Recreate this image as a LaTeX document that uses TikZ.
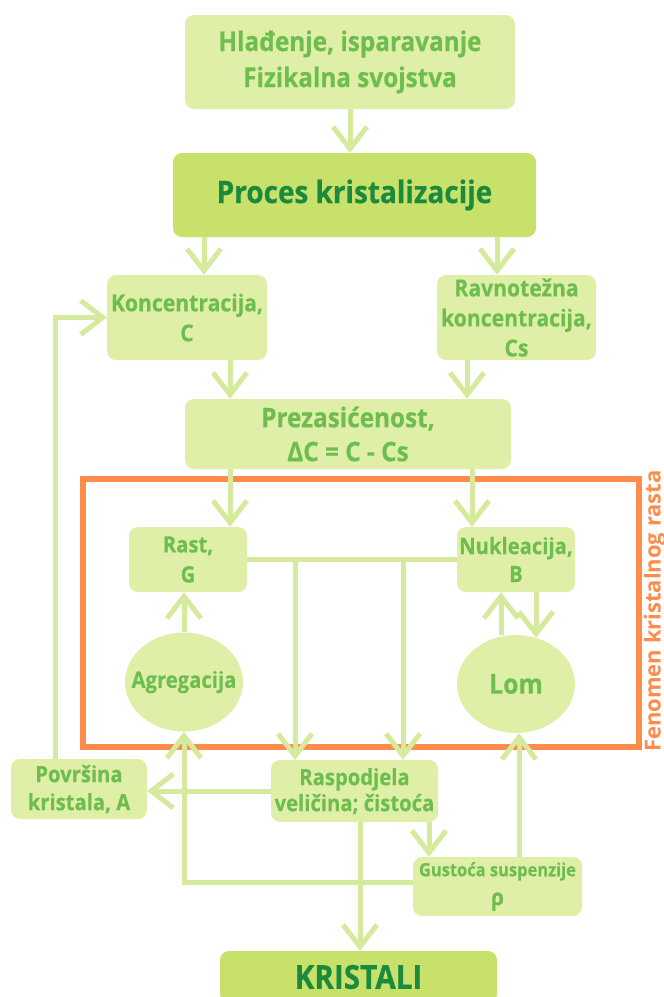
\documentclass[tikz,border=0pt]{standalone}
\usepackage{fontspec}
\newfontfamily\cb[FakeStretch=0.9,FakeBold=0.4]{Open Sans}
\newfontfamily\ob{Open Sans}
\usetikzlibrary{arrows.meta,shapes.geometric,calc}
\definecolor{boxlight}{HTML}{E0EFA8}
\definecolor{procfill}{HTML}{C8E16B}
\definecolor{txtgreen}{HTML}{6DBE4F}
\definecolor{darkgreen}{HTML}{1B8A3C}
\definecolor{linegreen}{HTML}{D5EA9C}
\definecolor{orangeedge}{HTML}{FF8C4B}
\begin{document}
\begin{tikzpicture}[x=1pt,y=-1pt,
  box/.style={rectangle,rounded corners=9pt,fill=boxlight,text=txtgreen,align=center,inner sep=0pt,font=\cb\bfseries},
  bigbox/.style={box,fill=procfill,text=darkgreen},
  oval/.style={ellipse,fill=boxlight,inner sep=0pt},
  ovaltext/.style={text=txtgreen,inner sep=0pt},
  conn/.style={draw=linegreen,line width=5pt},
  arr/.style={conn,-{Straight Barb[length=22pt,width=34pt,line width=5pt]}},
  fs/.style 2 args={font=\cb\bfseries\fontsize{#1}{#2}\selectfont}]
\useasboundingbox (0,0) rectangle (664,997);
% column coordinates
\coordinate (c1) at (204,0);
\coordinate (c2) at (497,0);
\coordinate (c3) at (230,0);
\coordinate (c4) at (467,0);
\coordinate (c5) at (472,0);
\coordinate (c6) at (295,0);
\coordinate (c7) at (403,0);
\coordinate (c8) at (501,0);
\coordinate (c9) at (536,0);
\coordinate (c10) at (519,0);
\coordinate (c11) at (55,0);
\coordinate (c12) at (429,0);
\coordinate (c13) at (360,0);
\coordinate (c14) at (350,0);
% frame
\draw[orangeedge,line width=5.5pt] (83,479) rectangle (639,747);
\node[rotate=90,text=orangeedge,font=\ob\bfseries\fontsize{22}{22}\selectfont] (lbl) at (655,611) {Fenomen kristalnog rasta};
% nodes
\node[box,fs={27}{36},minimum width=330,minimum height=94] (top) at (350,62) {Hlađenje, isparavanje\\Fizikalna svojstva};
\node[bigbox,fs={31}{34},minimum width=363,minimum height=84] (proc) at (354.5,195) {Proces kristalizacije};
\node[box,fs={23.5}{30},minimum width=160,minimum height=85] (konc) at (187,317.5) {Koncentracija,\\C};
\node[box,fs={23.5}{30},minimum width=159,minimum height=85] (ravn) at (516.5,317.5) {Ravnotežna\\koncentracija,\\Cs};
\node[box,fs={27}{34},minimum width=326,minimum height=70] (prez) at (348,434) {Prezasićenost,\\ΔC = C - Cs};
\node[box,fs={22.5}{30},minimum width=118,minimum height=65] (rast) at (188,559.5) {Rast,\\G};
\node[box,fs={22.5}{28},minimum width=118,minimum height=65] (nukl) at (516,559.5) {Nukleacija,\\B};
\node[oval,minimum width=118,minimum height=99,label={[ovaltext,fs={22.5}{24}]center:Agregacija}] (agr) at (184,682) {};
\node[oval,minimum width=118,minimum height=98,label={[ovaltext,fs={27.5}{30}]center:Lom}] (lom) at (516,684) {};
\node[box,fs={22.5}{28},minimum width=136,minimum height=60] (povr) at (79,789) {Površina\\kristala, A};
\node[box,fs={22.5}{26},minimum width=167,minimum height=62] (rasp) at (354.5,791) {Raspodjela\\veličina; čistoća};
\node[box,fs={18.3}{29},minimum width=169,minimum height=59] (gust) at (497.5,886.5) {Gustoća suspenzije\\{\fontsize{23}{29}\selectfont ρ}};
\node[bigbox,fs={33}{34},minimum width=277,minimum height=52] (krist) at (358.5,977) {KRISTALI};
% connectors
\draw[arr] (top.south -| c14) -- (proc.north -| c14);
\draw[arr] (proc.south -| c1) -- (konc.north -| c1);
\draw[arr] (proc.south -| c2) -- (ravn.north -| c2);
\draw[arr] (konc.south -| c3) -- (prez.north -| c3);
\draw[arr] (ravn.south -| c4) -- (prez.north -| c4);
\draw[arr] (prez.south -| c3) -- (rast.north -| c3);
\draw[arr] (prez.south -| c5) -- (nukl.north -| c5);
\draw[conn] (rast.east) -- (nukl.west);
\draw[arr] (rast.east -| c6) -- (rasp.north -| c6);
\draw[arr] (rast.east -| c7) -- (rasp.north -| c7);
\draw[arr] (agr.north) -- (rast.south -| agr.north);
\draw[arr] (lom.north -| c8) -- (nukl.south -| c8);
\draw[arr] (nukl.south -| c9) -- ([yshift=-3pt]lom.north -| c9);
\draw[arr] (gust.north -| c10) -- (lom.south -| c10);
\draw[arr] ([yshift=4.5pt]gust.west) -| (agr.south);
\draw[arr] (rasp.west) -- (rasp.west -| povr.east);
\draw[arr] (povr.north -| c11) |- (konc.west);
\draw[arr] (rasp.south -| c12) -- (gust.north -| c12);
\draw[arr] (rasp.south -| c13) -- (krist.north -| c13);
\end{tikzpicture}
\end{document}
